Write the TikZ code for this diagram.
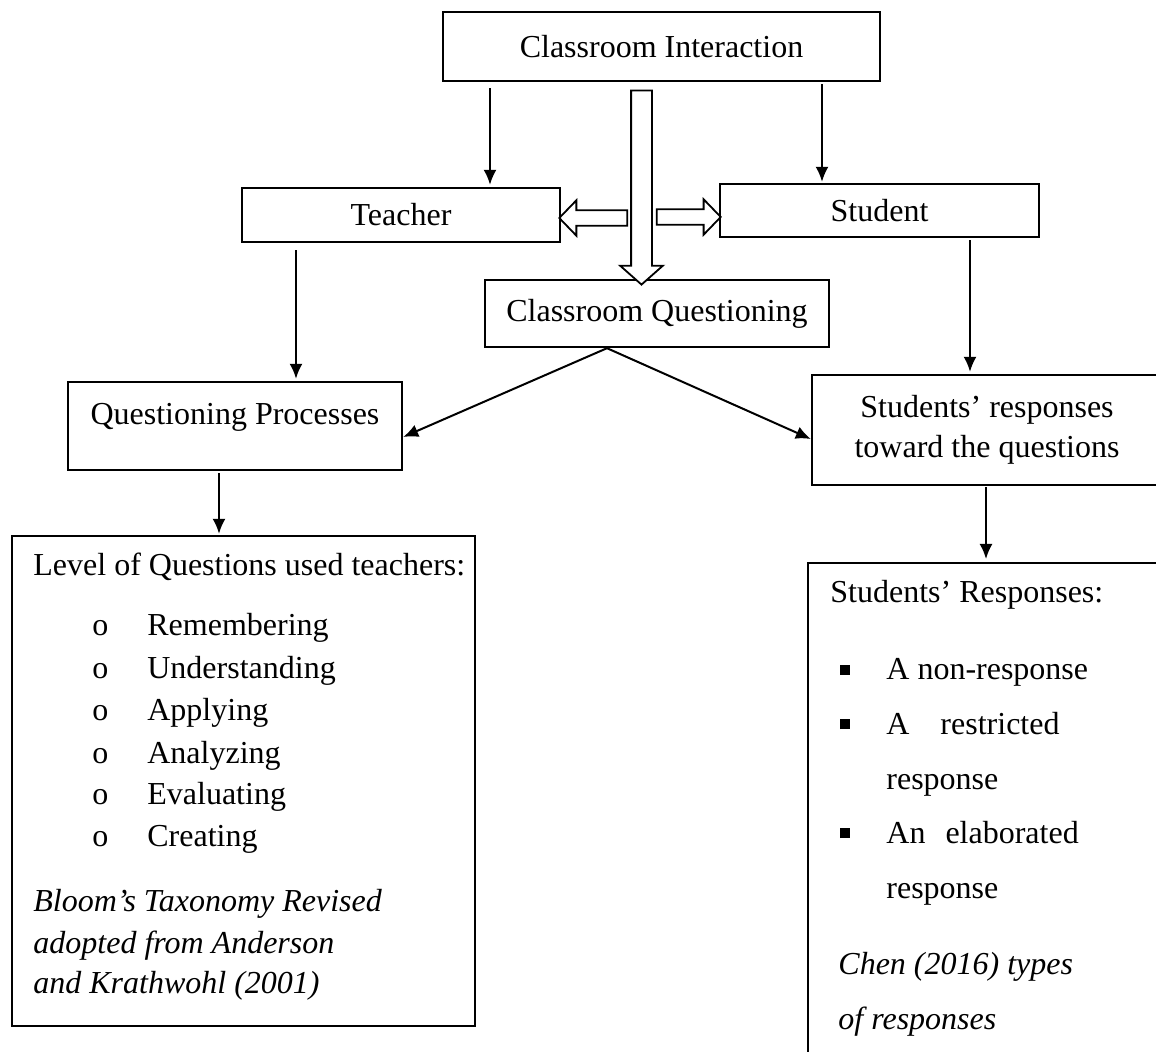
\documentclass[tikz,border=0pt]{standalone}
\usepackage{fontspec}
\setmainfont{Liberation Serif}
\usetikzlibrary{arrows.meta,shapes.arrows}

\begin{document}
\begin{tikzpicture}[x=0.5pt,y=-0.5pt,font=\fontsize{16pt}{20pt}\selectfont,
    box/.style={draw,line width=1.2pt,inner sep=0pt},
    txt/.style={anchor=base west,inner sep=0pt},
    flow/.style={-{Latex[length=7.5pt,width=6.5pt]},line width=1pt},
    hollow/.style={single arrow,draw,fill=white,line width=0.9pt,inner sep=0pt,minimum width=0pt}]

    \useasboundingbox (0,0) rectangle (1156,1052);

    \node[box,minimum width=218.5pt,minimum height=34.5pt] (inter) at (661.5,46.5) {Classroom Interaction};
    \node[box,minimum width=159pt,minimum height=27pt] (teacher) at (401,215) {Teacher};
    \node[box,minimum width=159.5pt,minimum height=26.5pt] (student) at (879.5,210.5) {Student};
    \node[box,minimum width=172pt,minimum height=33.5pt] (cquest) at (657,313.5) {Classroom Questioning};
    \node[box,minimum width=167pt,minimum height=44pt] (qproc) at (235,426) {};
    \node[anchor=base] (qproclabel) at (235,425) {Questioning Processes};
    \node[box,minimum width=175pt,minimum height=55pt,align=center] (sresp) at (987,430) {Students’ responses\\toward the questions};
    \node[box,minimum width=231.5pt,minimum height=245pt] (levels) at (243.5,781) {};
    \node[box,minimum width=177pt,minimum height=260pt,anchor=north west] (rtypes) at (807,562) {};

    \node[txt] (lvhead) at (33,576) {Level of Questions used teachers:};
    \node[txt] (lv1) at (92,636) {\makebox[27.5pt][l]{o}Remembering};
    \node[txt] (lv2) at (92,679) {\makebox[27.5pt][l]{o}Understanding};
    \node[txt] (lv3) at (92,720) {\makebox[27.5pt][l]{o}Applying};
    \node[txt] (lv4) at (92,763) {\makebox[27.5pt][l]{o}Analyzing};
    \node[txt] (lv5) at (92,804) {\makebox[27.5pt][l]{o}Evaluating};
    \node[txt] (lv6) at (92,846) {\makebox[27.5pt][l]{o}Creating};
    \node[txt] (lvsrc1) at (33,911) {\itshape Bloom’s Taxonomy Revised};
    \node[txt] (lvsrc2) at (33,953) {\itshape adopted from Anderson};
    \node[txt] (lvsrc3) at (33,993) {\itshape and Krathwohl (2001)};

    \node[txt] (rthead) at (830,603) {Students’ Responses:};
    \node[txt] (rt1) at (840,680) {\makebox[23pt][l]{\rule[2.5pt]{5pt}{5pt}}A non-response};
    \node[txt] (rt2) at (840,734) {\makebox[23pt][l]{\rule[2.5pt]{5pt}{5pt}}A\hspace{15.5pt}restricted};
    \node[txt] (rt2b) at (886,789) {response};
    \node[txt] (rt3) at (840,843) {\makebox[23pt][l]{\rule[2.5pt]{5pt}{5pt}}An\hspace{10pt}elaborated};
    \node[txt] (rt3b) at (886,898) {response};
    \node[txt] (rtsrc1) at (838,974) {\itshape Chen (2016) types};
    \node[txt] (rtsrc2) at (838,1029) {\itshape of responses};

    \coordinate (c1) at (490,0);
    \coordinate (c2) at (822,0);
    \coordinate (c3) at (296,0);
    \coordinate (c4) at (970,0);
    \coordinate (c5) at (219,0);
    \coordinate (c6) at (986,0);
    \coordinate (c7) at (607,0);
    \coordinate (d1) at (0,437);
    \coordinate (d2) at (0,439);

    \draw[flow,shorten <=3pt,shorten >=1pt] (inter.south -| c1) -- (teacher.north -| c1);
    \draw[flow,shorten <=1pt,shorten >=0.5pt] (inter.south -| c2) -- (student.north -| c2);
    \draw[flow,shorten <=3.5pt,shorten >=1pt] (teacher.south -| c3) -- (qproc.north -| c3);
    \draw[flow,shorten <=1pt,shorten >=1pt] (student.south -| c4) -- (sresp.north -| c4);
    \draw[flow] (cquest.south -| c7) -- (qproc.east |- d1);
    \draw[flow] (cquest.south -| c7) -- (sresp.west |- d2);
    \draw[flow,shorten <=1pt,shorten >=0.5pt] (qproc.south -| c5) -- (levels.north -| c5);
    \draw[flow,shorten <=0.5pt,shorten >=1.5pt] (sresp.south -| c6) -- (rtypes.north -| c6);

    \node[hollow,minimum height=34pt,inner ysep=3.4pt,single arrow head extend=5pt,single arrow tip angle=92,rotate=180] (toteacher) at (597,218) {};
    \node[hollow,minimum height=32pt,inner ysep=3.4pt,single arrow head extend=5pt,single arrow tip angle=92] (tostudent) at (685,217) {};
    \node[hollow,minimum height=97pt,inner ysep=4.75pt,single arrow head extend=5.5pt,single arrow tip angle=97,rotate=-90] (toquest) at (641.5,183) {};

  \end{tikzpicture}
\end{document}
